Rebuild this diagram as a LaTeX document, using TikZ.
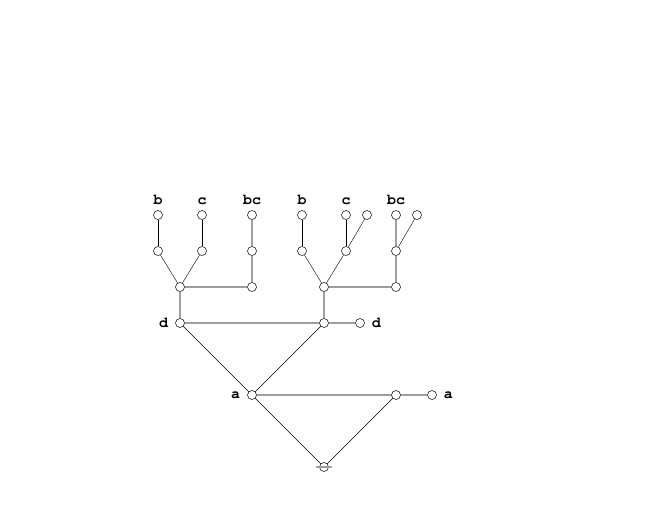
\documentclass[tikz,border=0pt]{standalone}
\usepackage{fontspec}
\setmonofont{TeX Gyre Cursor}
\usetikzlibrary{positioning}
\begin{document}
\begin{tikzpicture}[x=1pt,y=-1pt,
		vtx/.style={circle, draw=black, fill=white, line width=0.5pt, inner sep=0pt, minimum size=9pt},
		blk/.style={draw=black, line width=0.4pt},
		gry/.style={draw=black!38, line width=1.8pt},
		lbl/.style={font=\ttfamily\bfseries\fontsize{15}{15}\selectfont, inner sep=0pt}]
			\useasboundingbox (0, 0) rectangle (648, 504);
			% top row
			\node[vtx] (t1) at (158, 215) {};
			\node[vtx] (t2) at (202, 215) {};
			\node[vtx] (t3) at (252, 215) {};
			\node[vtx] (t4) at (302, 215) {};
			\node[vtx] (t5) at (346, 215) {};
			\node[vtx] (t6) at (367, 215) {};
			\node[vtx] (t7) at (396, 215) {};
			\node[vtx] (t8) at (417, 215) {};
			% second row
			\node[vtx] (m1) at (158, 251) {};
			\node[vtx] (m2) at (202, 251) {};
			\node[vtx] (m3) at (252, 251) {};
			\node[vtx] (m4) at (302, 251) {};
			\node[vtx] (m5) at (346, 251) {};
			\node[vtx] (m6) at (396, 251) {};
			% junctions
			\node[vtx] (j1) at (180, 287) {};
			\node[vtx] (j2) at (252, 287) {};
			\node[vtx] (j3) at (324, 287) {};
			\node[vtx] (j4) at (396, 287) {};
			\node[vtx] (d1) at (180, 323) {};
			\node[vtx] (d2) at (324, 323) {};
			\node[vtx] (d3) at (360, 323) {};
			\node[vtx] (a1) at (252, 395) {};
			\node[vtx] (a2) at (396, 395) {};
			\node[vtx] (a3) at (432, 395) {};
			\node[vtx] (r) at (324, 467) {};
			% thin edges
			\draw[blk] (t1) -- (m1);
			\draw[blk] (t2) -- (m2);
			\draw[blk] (t4) -- (m4);
			\draw[blk] (t5) -- (m5);
			\draw[blk] (t6) -- (m5);
			\draw[blk] (t8) -- (m6);
			\draw[blk] (m1) -- (j1);
			\draw[blk] (m2) -- (j1);
			\draw[blk] (m4) -- (j3);
			\draw[blk] (m5) -- (j3);
			\draw[blk] (d1) -- (a1);
			\draw[blk] (d2) -- (a1);
			\draw[blk] (a1) -- (r);
			\draw[blk] (a2) -- (r);
			% thick edges
			\draw[gry] (t3) -- (m3);
			\draw[gry] (m3) -- (j2);
			\draw[gry] (t7) -- (m6);
			\draw[gry] (m6) -- (j4);
			\draw[gry] (j1) -- (j2);
			\draw[gry] (j3) -- (j4);
			\draw[gry] (j1) -- (d1);
			\draw[gry] (j3) -- (d2);
			\draw[gry] (d1) -- (d2);
			\draw[gry] (d2) -- (d3);
			\draw[gry] (a1) -- (a2);
			\draw[gry] (a2) -- (a3);
			\coordinate (rl) at (316, 467);
			\coordinate (rr) at (332, 467);
			\draw[gry] (rl) -- (rr);
			% labels
			\node[lbl, above=6pt of t1, anchor=base] (lb1) {b};
			\node[lbl, above=6pt of t2, anchor=base] (lc1) {c};
			\node[lbl, above=6pt of t3, anchor=base] (lbc1) {bc};
			\node[lbl, above=6pt of t4, anchor=base] (lb2) {b};
			\node[lbl, above=6pt of t5, anchor=base] (lc2) {c};
			\node[lbl, above=6pt of t7, anchor=base] (lbc2) {bc};
			\node[lbl, left=7pt of d1] (ld1) {d};
			\node[lbl, right=7pt of d3] (ld2) {d};
			\node[lbl, left=7pt of a1] (la1) {a};
			\node[lbl, right=7pt of a3] (la2) {a};
		\end{tikzpicture}
\end{document}
